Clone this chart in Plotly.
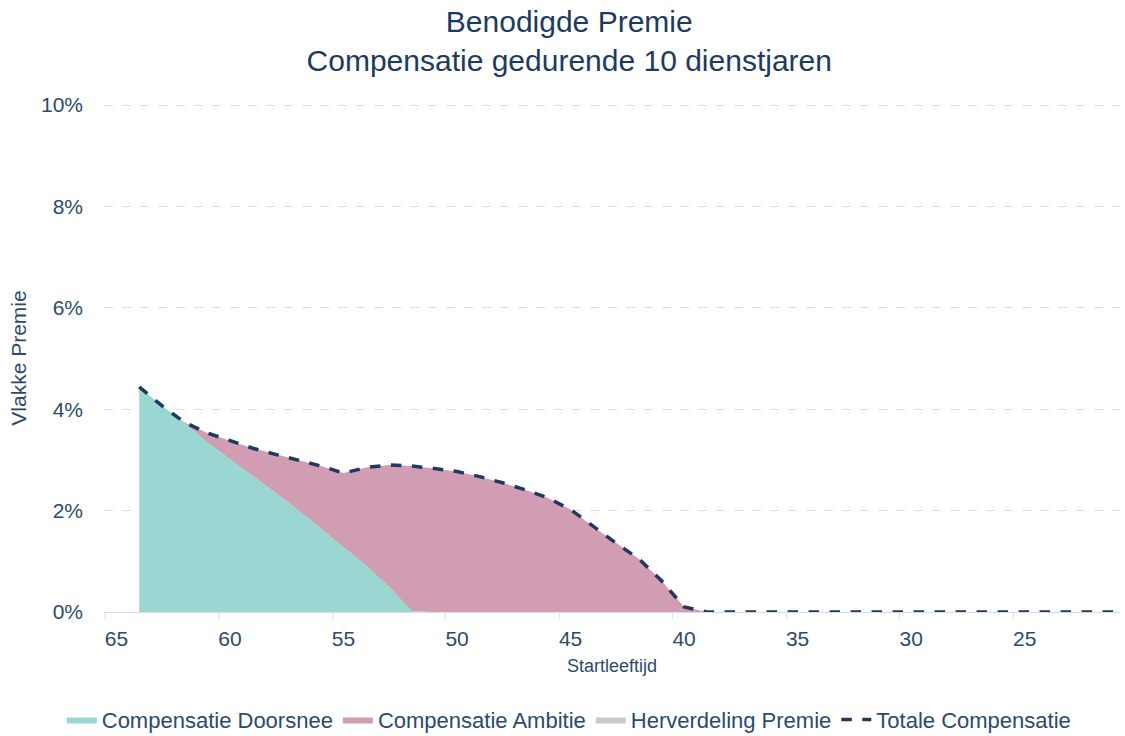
import plotly.graph_objects as go

# Starting age of the employee (x axis, shown from old to young)
ages = list(range(64, 20, -1))

# Required flat premium in % of salary
doorsnee = [4.44, 4.07, 3.72, 3.35, 3.02, 2.68, 2.35, 2.01, 1.65, 1.28,
            0.91, 0.50, 0.02] + [0.0] * 31
totaal = [4.44, 4.07, 3.74, 3.53, 3.38, 3.23, 3.11, 3.00, 2.88, 2.74,
          2.85, 2.90, 2.88, 2.83, 2.77, 2.67, 2.55, 2.41, 2.25, 2.02,
          1.68, 1.36, 1.05, 0.62, 0.10] + [0.0] * 19
ambitie = [round(t - d, 2) for t, d in zip(totaal, doorsnee)]
herverdeling = [0.0] * len(ages)

x_tick_vals = [65, 60, 55, 50, 45, 40, 35, 30, 25]
y_tick_vals = [0, 2, 4, 6, 8, 10]
y_tick_text = [f"{v}%" for v in y_tick_vals]

NAVY = "#1d3a5f"
TEXT = "#2b4a6e"
FONT = "Liberation Sans, Arial, sans-serif"

fig = go.Figure()
fig.add_trace(go.Scatter(
    x=ages, y=doorsnee, name="Compensatie Doorsnee", stackgroup="premie",
    mode="lines", line=dict(width=0, color="#9ad7d2"), fillcolor="#9ad7d2",
))
fig.add_trace(go.Scatter(
    x=ages, y=ambitie, name="Compensatie Ambitie", stackgroup="premie",
    mode="lines", line=dict(width=0, color="#d09db3"), fillcolor="#d09db3",
))
fig.add_trace(go.Scatter(
    x=ages, y=herverdeling, name="Herverdeling Premie", stackgroup="premie",
    mode="lines", line=dict(width=0, color="#c9c9c9"), fillcolor="#c9c9c9",
))
fig.add_trace(go.Scatter(
    x=ages, y=totaal, name="Totale Compensatie", mode="lines",
    line=dict(color=NAVY, width=3.5, dash="dash"),
))

fig.update_layout(
    width=1125, height=736,
    margin=dict(l=104, r=5, t=104, b=124),
    paper_bgcolor="white", plot_bgcolor="white",
    font=dict(family=FONT, color=TEXT, size=21),
    title=dict(
        text="Benodigde Premie<br>Compensatie gedurende 10 dienstjaren",
        x=0.506, xref="container", xanchor="center",
        y=0.957, yref="container", yanchor="middle",
        font=dict(size=30, color=NAVY, family=FONT),
    ),
    showlegend=True,
    legend=dict(
        orientation="h", xref="container", x=0.506, xanchor="center",
        yref="container", y=0.022, yanchor="middle",
        font=dict(size=22, color=TEXT), traceorder="normal",
        itemwidth=30, bgcolor="rgba(0,0,0,0)",
    ),
)

fig.update_xaxes(
    range=[65.55, 20.8],
    tickvals=x_tick_vals, ticktext=[str(v) for v in x_tick_vals],
    ticks="", showgrid=False,
    showline=True, linecolor="#d6dde6", linewidth=1,
    minor=dict(tickvals=[65.5, 60.5, 55.5, 50.5, 45.5, 40.5, 35.5, 30.5, 25.5],
               ticks="outside", ticklen=6, tickcolor="#d6dde6", showgrid=False),
    tickfont=dict(size=21, color=TEXT),
    ticklabelstandoff=8,
    title=dict(text="Startleeftijd", font=dict(size=18, color=TEXT), standoff=10),
    zeroline=False,
)
fig.update_yaxes(
    range=[0, 10.02],
    tickvals=y_tick_vals, ticktext=y_tick_text,
    showgrid=True, gridcolor="#dddddd", griddash="dash", gridwidth=1,
    zeroline=False, showline=False, ticks="",
    tickfont=dict(size=21, color=TEXT),
    ticklabelstandoff=20,
    title=dict(text="Vlakke Premie", font=dict(size=21, color=TEXT), standoff=8),
)

fig.write_html("out.html")
